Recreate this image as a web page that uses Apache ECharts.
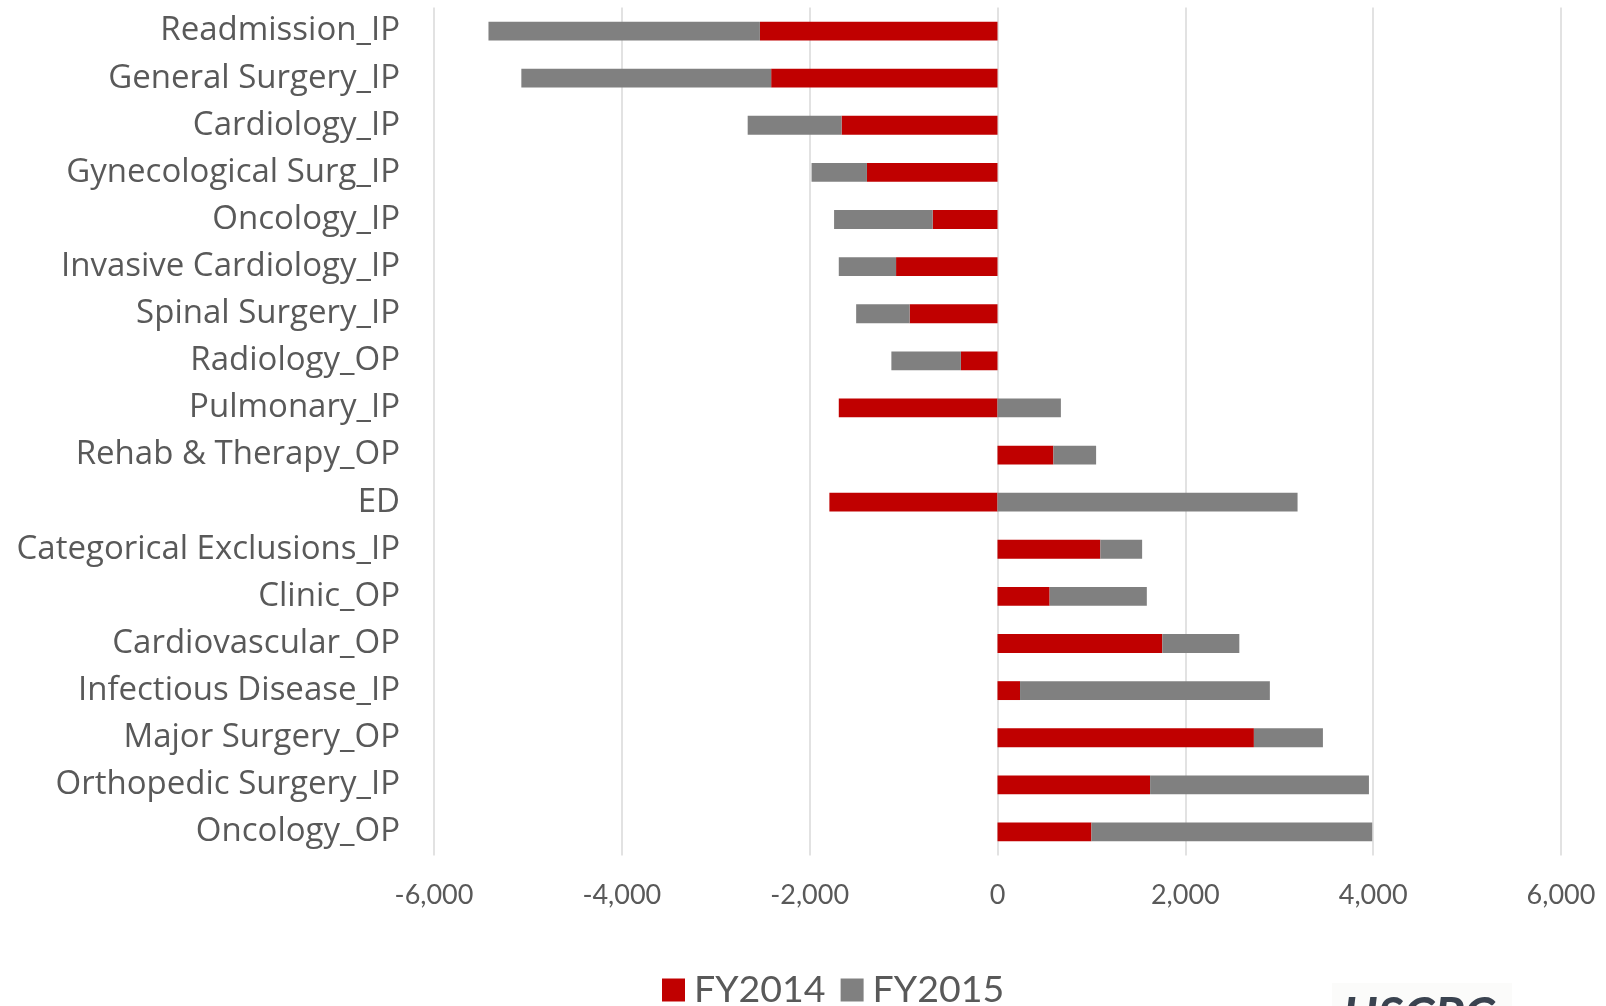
<!DOCTYPE html>
<html>
<head>
<meta charset="utf-8">
<script src="https://cdn.jsdelivr.net/npm/echarts@6/dist/echarts.min.js"></script>
<style>
html,body{margin:0;padding:0;background:#fff;}
#chart{width:1606px;height:1006px;}
</style>
</head>
<body>
<div id="chart"></div>
<script>
const categories = [
  "Readmission_IP", "General Surgery_IP", "Cardiology_IP", "Gynecological Surg_IP",
  "Oncology_IP", "Invasive Cardiology_IP", "Spinal Surgery_IP", "Radiology_OP",
  "Pulmonary_IP", "Rehab & Therapy_OP", "ED", "Categorical Exclusions_IP",
  "Clinic_OP", "Cardiovascular_OP", "Infectious Disease_IP", "Major Surgery_OP",
  "Orthopedic Surgery_IP", "Oncology_OP"
];
const fy2014 = [-2530, -2410, -1660, -1390, -690, -1080, -935, -390, -1690, 595, -1790, 1095, 555, 1755, 240, 2730, 1625, 1000];
const fy2015 = [-2890, -2660, -1000, -590, -1050, -610, -570, -740, 675, 455, 3195, 445, 1035, 820, 2660, 735, 2330, 2990];
const xTicks = [-6000, -4000, -2000, 0, 2000, 4000, 6000];
const seriesNames = ["FY2014", "FY2015"];

const FONT = "Lato, 'Open Sans', sans-serif";
const CAT_FONT = "'Open Sans', Lato, sans-serif";
const chart = echarts.init(document.getElementById('chart'), null, {renderer: 'canvas'});
const fmt = v => (v < 0 ? '-' : '') + Math.abs(v).toString().replace(/\B(?=(\d{3})+(?!\d))/g, ',');

chart.setOption({
  animation: false,
  backgroundColor: '#ffffff',
  textStyle: {fontFamily: FONT},
  grid: {left: 434, right: 45, top: 7.5, bottom: 150.5},
  legend: {
    left: 657, top: 966,
    itemWidth: 23, itemHeight: 23, itemGap: 15,
    icon: 'rect',
    textStyle: {fontSize: 37.5, color: '#595959', fontFamily: FONT, padding: [0, 0, 0, 4]},
    data: seriesNames
  },
  xAxis: {
    type: 'value',
    min: xTicks[0], max: xTicks[xTicks.length - 1], interval: 2000,
    axisLine: {show: false},
    axisTick: {show: false},
    splitLine: {show: true, lineStyle: {color: '#d9d9d9', width: 1.5}},
    axisLabel: {fontSize: 27, color: '#595959', margin: 26, formatter: fmt, fontFamily: FONT}
  },
  yAxis: {
    type: 'category',
    inverse: true,
    data: categories,
    axisLine: {show: false},
    axisTick: {show: false},
    splitLine: {show: false},
    axisLabel: {fontSize: 33, color: '#595959', margin: 34, fontFamily: CAT_FONT, padding: [4, 0, 0, 0]}
  },
  series: [
    {name: seriesNames[0], type: 'bar', stack: 'total', data: fy2014, barWidth: '40%',
     itemStyle: {color: '#c00000'}},
    {name: seriesNames[1], type: 'bar', stack: 'total', data: fy2015, barWidth: '40%',
     itemStyle: {color: '#808080'}}
  ],
  graphic: [
    {type: 'rect', left: 1332, top: 983, shape: {width: 180, height: 30}, style: {fill: '#fbfbfa'}, silent: true},
    {type: 'text', left: 1343, top: 992, silent: true,
     style: {text: 'USCPC', font: 'italic bold 50px Lato, sans-serif', fill: '#3a4350'}}
  ]
});
</script>
</body>
</html>
